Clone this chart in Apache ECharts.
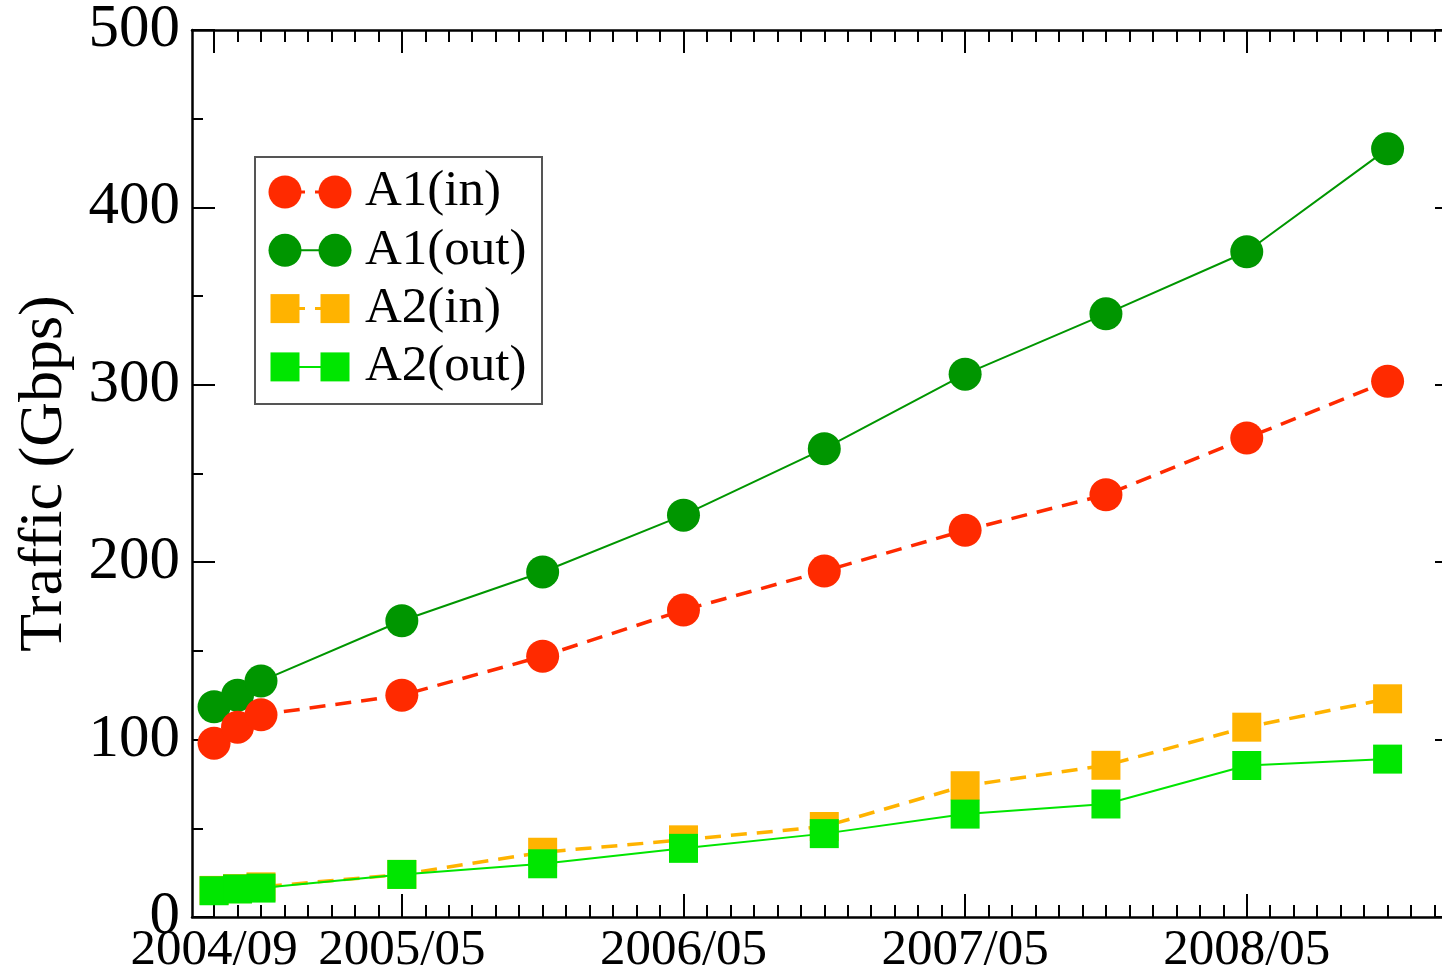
<!DOCTYPE html>
<html>
<head>
<meta charset="utf-8">
<script src="https://cdn.jsdelivr.net/npm/echarts@6/dist/echarts.min.js"></script>
<style>
  html, body { margin: 0; padding: 0; background: #fff; }
  #chart { width: 1442px; height: 971px; }
</style>
</head>
<body>
<div id="chart"></div>
<script>
// sample dates (yyyy/mm)
const dates = ['2004/09', '2004/10', '2004/11', '2005/05', '2005/11', '2006/05',
               '2006/11', '2007/05', '2007/11', '2008/05', '2008/11'];
const tickLabels = ['2004/09', '2005/05', '2006/05', '2007/05', '2008/05'];

// traffic in Gbps
const a1In  = [98, 107, 114, 125, 147, 173, 195, 218, 238, 270, 302];
const a1Out = [118.5, 125, 133, 167, 194.5, 226.5, 264, 306, 340, 375, 433];
const a2In  = [15, 16, 17, 24, 36.5, 43.5, 51, 74, 85.5, 107, 123];
const a2Out = [14.8, 15.8, 16.3, 24, 30, 38.7, 47, 58, 63.7, 85.4, 89];

const seriesNames = ['A1(in)', 'A1(out)', 'A2(in)', 'A2(out)'];
const seriesData = [a1In, a1Out, a2In, a2Out];
const colors = ['#ff2a00', '#009600', '#ffb300', '#00e600'];
const symbols = ['circle', 'circle', 'rect', 'rect'];
const dashed = [true, false, true, false];
const zOrder = [3, 2, 2, 3];

const FONT = '"Liberation Serif", "Times New Roman", serif';

// months counted from 2004/09
const toMonth = (s) => {
  const [y, m] = s.split('/').map(Number);
  return (y - 2004) * 12 + (m - 9);
};
const fromMonth = (v) => {
  const t = Math.round(v) + 8;
  const y = 2004 + Math.floor(t / 12);
  const m = (t % 12) + 1;
  return y + '/' + String(m).padStart(2, '0');
};

// frame runs to ~2009/02, just past the right edge of the picture
const xMin = -0.94, xMax = 53;
const minorMonths = [];
for (let i = 0; i <= 53; i++) minorMonths.push(i);
const majorMonths = tickLabels.map(toMonth);

const chart = echarts.init(document.getElementById('chart'));

const baseX = (position, ticks, len, showLabel, showLine) => ({
  type: 'value',
  position: position,
  min: xMin,
  max: xMax,
  splitLine: { show: false },
  axisLine: { show: showLine, lineStyle: { color: '#000', width: 2.5 } },
  axisTick: { show: true, inside: true, length: len, customValues: ticks,
              lineStyle: { color: '#000', width: 2 } },
  axisLabel: showLabel ? {
    show: true, customValues: majorMonths, formatter: fromMonth,
    fontFamily: FONT, fontSize: 51, color: '#000', margin: 8
  } : { show: false }
});

const baseY = (position, showLabel, showLine) => ({
  type: 'value',
  position: position,
  min: 0,
  max: 500,
  interval: 100,
  splitLine: { show: false },
  axisLine: { show: showLine, onZero: false, lineStyle: { color: '#000', width: 2.5 } },
  axisTick: { show: true, inside: true, length: 23, lineStyle: { color: '#000', width: 2 } },
  minorTick: { show: true, splitNumber: 2, length: 11, lineStyle: { color: '#000', width: 2 } },
  minorSplitLine: { show: false },
  axisLabel: showLabel ? {
    show: true, fontFamily: FONT, fontSize: 61, color: '#000', margin: 12
  } : { show: false }
});

// legend drawn by hand: two markers joined by the series line
const legendGraphics = [{
  type: 'rect',
  shape: { x: 255, y: 157, width: 287, height: 247 },
  style: { fill: '#fff', stroke: '#555', lineWidth: 2 },
  z: 10
}];
seriesNames.forEach((name, i) => {
  const cy = 192 + i * 58.3;
  legendGraphics.push({
    type: 'line',
    shape: { x1: 285, y1: cy, x2: 335, y2: cy },
    style: { stroke: colors[i], lineWidth: dashed[i] ? 3 : 2,
             lineDash: dashed[i] ? [20, 10] : null },
    z: 11
  });
  [285, 335].forEach((cx) => {
    if (symbols[i] === 'circle') {
      legendGraphics.push({ type: 'circle', shape: { cx: cx, cy: cy, r: 16.5 },
                            style: { fill: colors[i] }, z: 12 });
    } else {
      legendGraphics.push({ type: 'rect', shape: { x: cx - 14.5, y: cy - 14.5, width: 29, height: 29 },
                            style: { fill: colors[i] }, z: 12 });
    }
  });
  legendGraphics.push({
    type: 'text',
    x: 365, y: cy,
    style: { text: name, font: '51px ' + FONT, fill: '#000', verticalAlign: 'middle' },
    z: 12
  });
});

const option = {
  animation: false,
  backgroundColor: '#fff',
  grid: { left: 192, right: -16, top: 30, bottom: 54, containLabel: false, outerBoundsMode: 'none' },
  xAxis: [
    baseX('bottom', minorMonths, 12, false, true),
    baseX('bottom', majorMonths, 23, true, false),
    baseX('top', minorMonths, 12, false, true),
    baseX('top', majorMonths, 23, false, false)
  ],
  yAxis: [
    Object.assign(baseY('left', true, true), {
      name: 'Traffic (Gbps)',
      nameLocation: 'middle',
      nameRotate: 90,
      nameGap: 116,
      nameTextStyle: { fontFamily: FONT, fontSize: 62, color: '#000' }
    }),
    // right frame line is off the picture; only the long ticks reach in
    baseY('right', false, false)
  ],
  graphic: legendGraphics,
  series: seriesNames.map((name, i) => ({
    name: name,
    type: 'line',
    xAxisIndex: 0,
    yAxisIndex: 0,
    z: zOrder[i],
    symbol: symbols[i],
    symbolSize: symbols[i] === 'circle' ? 33 : 29,
    itemStyle: { color: colors[i] },
    lineStyle: {
      color: colors[i],
      width: dashed[i] ? 3.5 : 2,
      type: dashed[i] ? [16, 10] : 'solid'
    },
    emphasis: { disabled: true },
    data: dates.map((d, k) => [toMonth(d), seriesData[i][k]])
  }))
};

chart.setOption(option);
</script>
</body>
</html>
